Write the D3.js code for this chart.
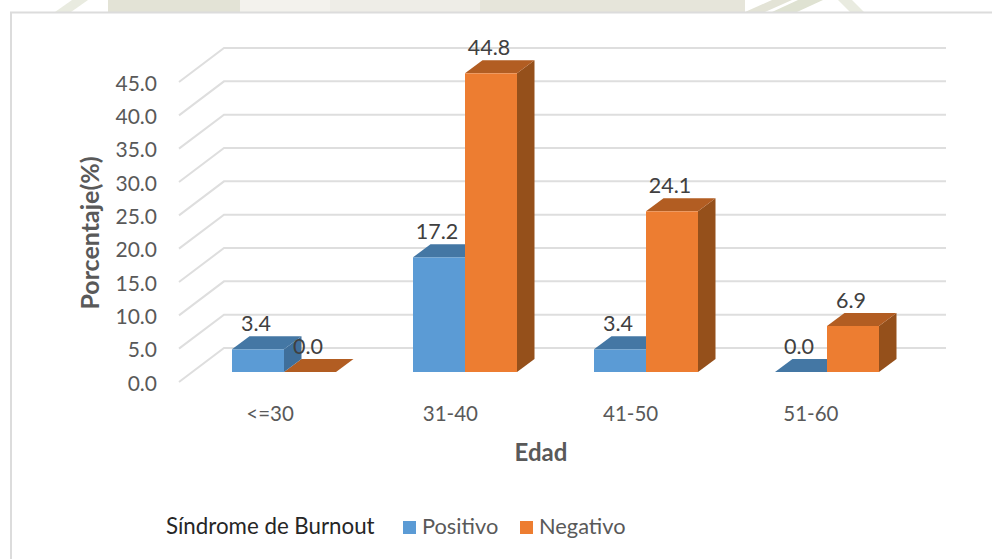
<!DOCTYPE html>
<html>
<head>
<meta charset="utf-8">
<script src="https://cdn.jsdelivr.net/npm/d3@7"></script>
<style>
  html, body { margin: 0; padding: 0; background: #fff; }
  svg { display: block; font-family: Lato, "Open Sans", sans-serif; }
</style>
</head>
<body>
<svg width="992" height="559"></svg>
<script>
const categories = ["<=30", "31-40", "41-50", "51-60"]
const positivo = [3.4, 17.2, 3.4, 0.0]
const negativo = [0.0, 44.8, 24.1, 6.9]
const yTicks = [0, 5, 10, 15, 20, 25, 30, 35, 40, 45]

const seriesNames = ["Positivo", "Negativo"]
const seriesValues = [positivo, negativo]
const colors = {
  Positivo: {front: "#5b9bd5", top: "#4477a4", side: "#3f6f9b"},
  Negativo: {front: "#ed7d31", top: "#b25d22", side: "#95501b"}
}

let svg = d3.select("svg")

// watermark strip of the page behind the chart: x at the top edge, x at y=12, width, colour
const stripTop = [72, 108, 240, 330, 480, 772, 798, 838]
const stripBottom = [55, 108, 240, 330, 480, 745, 772, 850]
const stripW = [16, 132, 90, 150, 265, 20, 25, 14]
const stripC = ["#e9ebe0", "#e3e3d6", "#f3f2ed", "#eeede7", "#e6e5da", "#e3e3d6", "#dfe2d2", "#e9ebe0"]
svg.selectAll("path.strip")
  .data(stripTop)
  .enter().append("path")
  .attr("class", "strip")
  .attr("d", (d, i) => "M" + d + ",0h" + stripW[i] + "L" + (stripBottom[i] + stripW[i]) + ",12H" + stripBottom[i] + "z")
  .attr("fill", (d, i) => stripC[i])

// chart frame, open to the right and bottom of the picture
svg.append("path")
  .attr("d", "M11,559V12.5H992")
  .attr("fill", "none")
  .attr("stroke", "#dcdcdc")
  .attr("stroke-width", 2)

// scales: front plane of the 3d box
const y = d3.scaleLinear().domain([0, 45]).range([382, 82])
const xLabel = d3.scaleBand().domain(categories).range([180, 901])
const xBar = d3.scaleBand().domain(categories).range([193.5, 917.5])

const depthX = 45
const depthY = 34
const barDepthX = 17.5
const barDepthY = 13
const barBase = 10 // bars stand this far up from the front edge
const barW = 52

// gridlines, slant on the left wall and then across the back
svg.append("g").selectAll("path")
  .data(yTicks)
  .enter().append("path")
  .attr("d", d => "M179," + y(d) + "L224," + (y(d) - depthY) + "H946")
  .attr("fill", "none")
  .attr("stroke", "#dedede")
  .attr("stroke-width", 2)

// axes
let yAxis = svg.append("g")
  .attr("transform", "translate(157,1.5)")
  .call(d3.axisLeft(y).tickValues(yTicks).tickSize(0).tickPadding(0).tickFormat(d3.format(".1f")))
yAxis.select(".domain").remove()
yAxis.selectAll("text").attr("font-size", 21).attr("font-family", "Lato").attr("fill", "#595959")

let xAxis = svg.append("g")
  .attr("transform", "translate(0,406)")
  .call(d3.axisBottom(xLabel).tickSize(0).tickPadding(0))
xAxis.select(".domain").remove()
xAxis.selectAll("text").attr("font-size", 20.5).attr("font-family", "Lato").attr("fill", "#595959")

svg.append("text")
  .attr("transform", "translate(99,233) rotate(-90)")
  .attr("text-anchor", "middle")
  .attr("font-size", 25)
  .attr("font-weight", "bold")
  .attr("fill", "#595959")
  .text("Porcentaje(%)")

svg.append("text")
  .attr("x", 541)
  .attr("y", 461)
  .attr("text-anchor", "middle")
  .attr("font-size", 24)
  .attr("font-weight", "bold")
  .attr("fill", "#595959")
  .text("Edad")

// bars
const bars = []
categories.forEach((c, i) => {
  seriesNames.forEach((name, s) => {
    const left = xBar(c) + xBar.bandwidth() / 2 - barW + s * barW
    const bottom = y(0) - barBase
    const top = bottom - (y(0) - y(seriesValues[s][i]))
    bars.push({name, left, bottom, top, value: seriesValues[s][i]})
  })
})

let barLayer = svg.append("g")

function drawTop(sel) {
  sel.append("path")
    .attr("d", d => "M" + d.left + "," + d.top + "l" + barDepthX + "," + (-barDepthY) + "h" + barW + "l" + (-barDepthX) + "," + barDepthY + "z")
    .attr("fill", d => colors[d.name].top)
}
function drawSide(sel) {
  sel.append("path")
    .attr("d", d => "M" + (d.left + barW) + "," + d.top + "l" + barDepthX + "," + (-barDepthY) + "V" + (d.bottom - barDepthY) + "l" + (-barDepthX) + "," + barDepthY + "z")
    .attr("fill", d => colors[d.name].side)
}
function drawFront(sel) {
  sel.append("rect")
    .attr("x", d => d.left)
    .attr("y", d => d.top)
    .attr("width", barW)
    .attr("height", d => d.bottom - d.top)
    .attr("fill", d => colors[d.name].front)
}

// orange back faces, then the whole blue bar, then orange front so the overlaps come out right
let orangeBack = barLayer.append("g").selectAll("g").data(bars.filter(d => d.name == "Negativo")).enter().append("g")
drawSide(orangeBack)
drawTop(orangeBack)
let blue = barLayer.append("g").selectAll("g").data(bars.filter(d => d.name == "Positivo")).enter().append("g")
drawFront(blue)
drawSide(blue)
drawTop(blue)
let orangeFront = barLayer.append("g").selectAll("g").data(bars.filter(d => d.name == "Negativo")).enter().append("g")
drawFront(orangeFront)

// data labels
svg.append("g").selectAll("text")
  .data(bars)
  .enter().append("text")
  .attr("x", d => d.left + barW / 2 - 2)
  .attr("y", d => d.top - barDepthY - 5)
  .attr("text-anchor", "middle")
  .attr("font-size", 21.5)
  .attr("fill", "#404040")
  .text(d => d.value.toFixed(1))

// legend
svg.append("text")
  .attr("x", 166)
  .attr("y", 534)
  .attr("font-size", 22.3)
  .attr("fill", "#262626")
  .text("Síndrome de Burnout")

const legendX = [403, 520]
seriesNames.forEach((name, i) => {
  svg.append("rect")
    .attr("x", legendX[i])
    .attr("y", 521)
    .attr("width", 13)
    .attr("height", 13)
    .attr("fill", colors[name].front)
  svg.append("text")
    .attr("x", legendX[i] + 19)
    .attr("y", 534)
    .attr("font-size", 21.8)
    .attr("fill", "#595959")
    .text(name)
})
</script>
</body>
</html>
